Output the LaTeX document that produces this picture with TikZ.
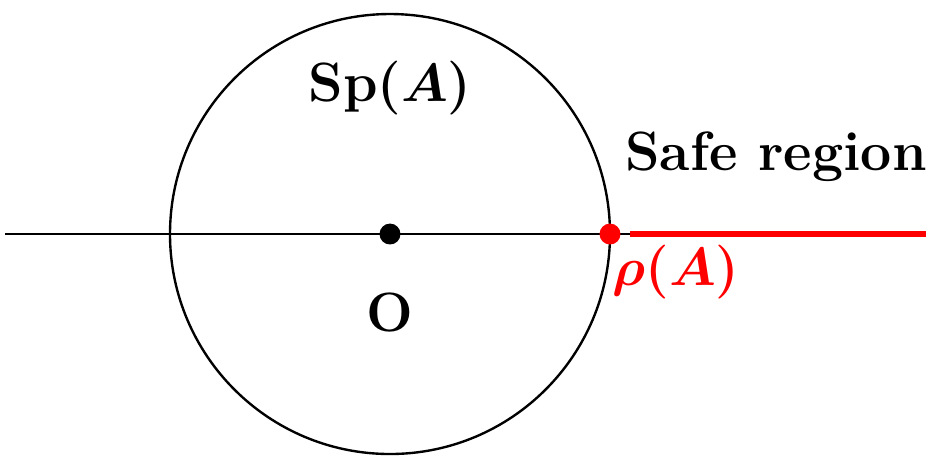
\documentclass[tikz,border=0pt]{standalone}
\usetikzlibrary{positioning}
\begin{document}
\begin{tikzpicture}[
    x=0.1625mm, y=-0.1625mm,
    font=\fontsize{25.6}{30}\selectfont\bfseries\boldmath,
    axis/.style={line width=1.1pt},
    safe/.style={draw=red, line width=2.6pt},
    dot/.style={circle, fill, inner sep=0pt, minimum size=3.4mm}
]
\useasboundingbox (0,0) rectangle (929,458);

% --- real axis and spectrum disc ---
\coordinate (O) at (390,234);
\coordinate (west) at (5,234);
\coordinate (east) at (638,234);
\coordinate (safestart) at (630,234);
\coordinate (safeend) at (926,234);

\draw[axis] (O) circle[radius=220];
\draw[axis] (west) -- (east);
\draw[safe] (safestart) -- (safeend);

% --- points ---
\node[dot] (origin) at (O) {};
\node[dot, red] (rho) at (610,234) {};

% --- labels ---
\node (sp) at (390,88) {Sp$(A)$};
\node (safelbl) at (776,157) {Safe region};
\node (olbl) at (390,312) {O};
\node[red] (rholbl) at (676,272) {$\rho(A)$};

\end{tikzpicture}
\end{document}
